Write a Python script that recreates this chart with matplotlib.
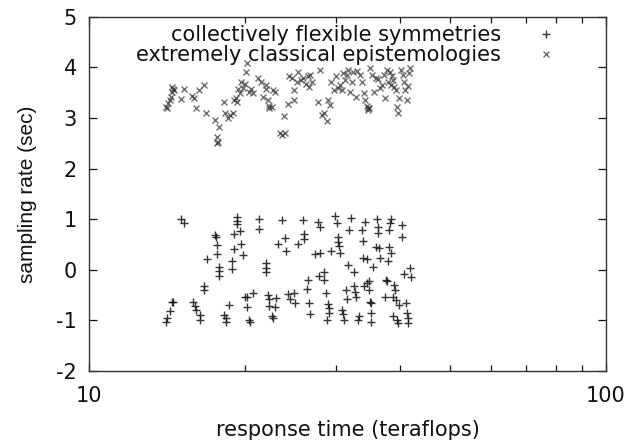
import numpy as np
import matplotlib
matplotlib.use("Agg")
import matplotlib.pyplot as plt

plt.rcParams['font.family'] = ['DejaVu Sans']
plt.rcParams['axes.unicode_minus'] = False

# series 1: collectively flexible symmetries (+)
sym_x = [14.06, 14.13, 14.31, 14.46, 14.52, 15.04, 15.26,
         15.88, 16.02, 16.11, 16.37, 16.37, 16.70, 16.70, 16.90,
         17.52, 17.58, 17.68, 17.68, 17.84, 17.84, 17.84,
         18.26, 18.39, 18.39, 18.66, 18.92, 18.92, 19.09, 19.09,
         19.34, 19.34, 19.34, 19.55, 19.69, 19.80,
         20.04, 20.23, 20.23, 20.41, 20.48, 20.78, 21.27, 21.27,
         21.93, 22.01, 22.01, 22.13, 22.25, 22.25, 22.57, 22.65,
         22.98, 22.86, 23.14, 23.56, 23.90, 24.07, 24.24, 24.42,
         24.95, 24.99, 25.40, 25.86, 26.00, 26.00,
         26.51, 26.33, 26.56, 26.71, 27.33, 27.77, 27.97, 27.67, 27.92,
         28.42, 28.48, 28.68, 28.99, 29.10, 29.10, 28.89,
         29.41, 29.83, 30.10, 30.26, 30.26, 30.43, 30.53,
         30.81, 30.92, 31.09, 31.37, 31.48, 31.71, 32.05, 31.82, 32.52,
         32.52, 32.63, 32.81, 33.22, 33.10,
         33.70, 33.82, 33.88, 34.00, 34.19, 34.43,
         34.43, 34.80, 34.80, 34.92, 35.05, 35.05, 35.05, 35.43,
         35.88, 36.01, 36.21, 36.21, 36.40, 36.53,
         37.39, 37.53, 37.66, 37.86, 38.07, 38.35, 38.35, 38.21, 38.07,
         38.63, 38.91, 39.04, 38.76, 39.26, 39.47, 39.61,
         39.75, 40.32, 40.32, 40.69, 41.05, 41.21, 41.43, 41.43, 41.80, 41.96]
sym_y = [-1.04, -0.96, -0.81, -0.63, -0.64, 1.00, 0.93,
         -0.63, -0.71, -0.79, -0.89, -0.99, -0.32, -0.40, 0.21,
         0.69, 0.64, 0.49, 0.31, 0.06, -0.02, -0.12,
         -0.89, -0.96, -1.04, -0.69, 0.18, 0.01, 0.70, 0.42,
         1.04, 0.97, 0.91, 0.77, 0.50, 0.30,
         -0.53, -0.54, -0.73, -0.99, -1.04, -0.46, 1.00, 0.80,
         0.14, 0.03, -0.04, -0.50, -0.58, -0.71, -0.92, -0.96,
         -0.55, -0.73, 0.50, 0.98, 0.62, 0.37, -0.48, -0.57,
         -0.46, -0.66, 0.50, 0.98, 0.71, 0.60,
         -0.21, -0.37, -0.66, -0.87, 0.31, -0.12, 0.33, 0.95, 0.85,
         -0.04, -0.21, -0.45, -0.67, -0.76, -0.86, -1.00,
         0.38, 1.06, 0.93, 0.64, 0.54, 0.47, 0.33,
         -0.79, -0.87, -0.99, -0.39, -0.58, 0.10, 1.02, 0.79, -0.05,
         -0.33, -0.44, -0.53, -0.92, -0.99,
         0.79, 0.57, 0.24, -0.32, 0.95, 0.21,
         -0.27, -0.23, -0.40, -0.63, -0.66, -0.86, -1.04, 0.05,
         0.46, 1.00, 0.85, 0.72, 0.44, 0.23,
         -0.53, -0.20, -0.23, 0.18, 0.46, 0.34, 1.00, 0.92, 0.79,
         -0.53, -0.30, -0.40, -0.91, -0.60, -0.99, -1.06,
         -0.69, 0.64, 0.89, -0.09, -0.65, -0.86, -0.96, -1.06, 0.03, -0.14]

# series 2: extremely classical epistemologies (x)
epi_x = [14.06, 14.13, 14.21, 14.31, 14.39, 14.46, 14.52, 14.46, 14.57,
         15.04, 15.26, 15.82, 15.96, 16.11, 16.31, 16.70, 16.81,
         17.52, 17.68, 17.74, 17.84, 17.68,
         18.19, 18.32, 18.52, 18.72, 18.99, 19.09, 19.23, 19.34, 19.41,
         19.55, 19.69, 19.87, 20.04, 20.12, 20.23, 20.41, 20.59,
         20.78, 21.23, 21.46, 21.73, 21.93, 22.01, 22.13, 22.25, 22.32,
         22.57, 22.72, 22.88, 23.34, 23.56, 23.80, 23.90,
         24.24, 24.32, 24.63, 24.85, 24.95, 25.21, 25.40, 25.67, 25.86,
         26.23, 26.47, 26.61, 26.79, 26.99,
         27.67, 27.92, 28.18, 28.48, 28.78, 28.94, 29.20,
         29.30, 29.72, 29.99, 30.26, 30.53, 30.81, 30.92, 31.25, 31.48,
         31.71, 31.93, 32.22, 32.40, 32.81, 32.98, 33.40,
         33.70, 34.00, 34.19, 34.43, 34.61, 34.80, 34.55,
         34.92, 35.24, 35.56, 35.94, 36.21, 36.53, 36.87, 37.20,
         37.39, 37.66, 37.86, 38.21, 38.35, 38.55, 38.76, 38.91,
         39.26, 39.47, 39.61, 39.81, 40.18, 40.46, 40.69, 40.90,
         41.21, 41.43, 41.65, 41.80]
epi_y = [3.22, 3.19, 3.29, 3.35, 3.42, 3.52, 3.58, 3.62, 3.55,
         3.37, 3.58, 3.43, 3.39, 3.19, 3.56, 3.65, 3.09,
         2.96, 2.63, 2.53, 2.83, 2.50,
         3.32, 3.09, 2.99, 3.06, 3.09, 3.35, 3.39, 3.32, 3.58,
         3.49, 3.72, 3.60, 3.68, 3.91, 4.08, 3.52, 3.58,
         3.49, 3.78, 3.72, 3.42, 3.65, 3.58, 3.35, 3.24, 3.19,
         3.22, 3.55, 3.52, 2.70, 2.66, 3.03, 2.70,
         3.28, 3.83, 3.78, 3.55, 3.35, 3.72, 3.91, 3.75, 3.78,
         3.68, 3.82, 3.62, 3.85, 3.72,
         3.32, 3.95, 3.06, 3.10, 2.93, 3.35, 3.26,
         3.72, 3.55, 3.82, 3.60, 3.65, 3.55, 3.88, 3.75, 3.85,
         3.95, 3.52, 3.72, 3.91, 3.42, 3.93, 3.85,
         3.72, 3.49, 3.35, 3.24, 3.16, 3.19, 3.19,
         3.98, 3.85, 3.52, 3.78, 3.76, 3.60, 3.65, 3.85,
         3.39, 3.95, 3.72, 3.91, 3.65, 3.82, 3.75, 3.62,
         3.56, 3.21, 3.10, 3.39, 3.95, 3.85, 3.72, 3.55,
         3.35, 3.63, 3.88, 3.98]

labels = ["collectively flexible symmetries", "extremely classical epistemologies"]

fig = plt.figure(figsize=(6.3, 4.41), dpi=100)
ax = fig.add_axes([0.1417, 0.1587, 0.8203, 0.8034])

ax.plot(sym_x, sym_y, linestyle='none', marker='+', markersize=6,
        markeredgewidth=1.0, color='#111111', alpha=0.85, label=labels[0])
ax.plot(epi_x, epi_y, linestyle='none', marker='x', markersize=5,
        markeredgewidth=1.0, color='#333333', alpha=0.7, label=labels[1])

ax.set_xscale('log')
ax.set_xlim(10, 100)
ax.set_ylim(-2, 5)
ax.set_yticks(range(-2, 6))
ax.set_xticks([10, 100])
ax.set_xticklabels(['10', '100'])
ax.xaxis.set_minor_formatter(matplotlib.ticker.NullFormatter())

ax.tick_params(which='both', direction='in', top=True, right=True,
               colors='#111111', labelsize=15, width=0.9)
ax.tick_params(which='major', length=6)
ax.tick_params(which='minor', length=4)
ax.tick_params(axis='y', pad=9)
ax.tick_params(axis='x', pad=11)
for s in ax.spines.values():
    s.set_color('#333333')
    s.set_linewidth(1.0)

ax.set_xlabel('response time (teraflops)', fontsize=15, color='#111111', labelpad=10)
# vertical label in a narrower face, as in the reference
ax.set_ylabel('sampling rate (sec)', fontsize=15, color='#111111', labelpad=14,
              family='Liberation Sans')

leg = ax.legend(loc='upper right', frameon=False, markerfirst=False,
                fontsize=15, handlelength=1.5, handletextpad=1.4,
                labelspacing=0.0, borderaxespad=0.0,
                bbox_to_anchor=(0.93, 1.0))
for t in leg.get_texts():
    t.set_ha('right')
    t.set_color('#111111')

fig.savefig('out.png', dpi=100)
